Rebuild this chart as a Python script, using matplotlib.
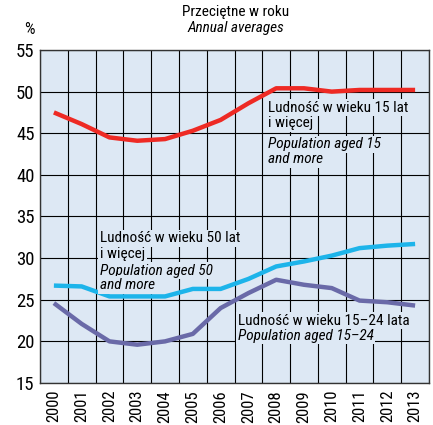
import numpy as np
import matplotlib.pyplot as plt
from matplotlib import font_manager

lata = [str(r) for r in range(2000, 2014)]
wiek_15 = [47.5, 46.1, 44.5, 44.1, 44.3, 45.3, 46.6, 48.6, 50.4, 50.4, 50.0, 50.2, 50.2, 50.2]
wiek_50 = [26.7, 26.6, 25.4, 25.4, 25.4, 26.3, 26.3, 27.5, 29.0, 29.6, 30.3, 31.2, 31.5, 31.7]
wiek_15_24 = [24.6, 22.1, 20.0, 19.6, 20.0, 20.9, 24.0, 25.8, 27.4, 26.8, 26.4, 24.9, 24.7, 24.3]

dostepne = {f.name for f in font_manager.fontManager.ttflist}
for kandydat in ["Roboto Condensed", "Archivo Narrow", "PT Sans Narrow", "Liberation Sans Narrow", "Liberation Sans"]:
    if kandydat in dostepne:
        plt.rcParams["font.family"] = [kandydat, "DejaVu Sans"]
        break

TLO = "#dde8f4"
fig = plt.figure(figsize=(4.33, 4.25), dpi=100)
ax = fig.add_axes([40/433, 42/425, 389/433, 333/425])
ax.set_facecolor(TLO)
x = np.arange(len(lata))

ax.plot(x, wiek_15, color="#ee2a24", lw=3.2, solid_capstyle="butt", zorder=3)
ax.plot(x, wiek_50, color="#1db4ea", lw=3.2, solid_capstyle="butt", zorder=3)
ax.plot(x, wiek_15_24, color="#6a6aa8", lw=3.2, solid_capstyle="butt", zorder=3)

ax.set_xlim(-0.5, 13.5)
ax.set_ylim(15, 55)
ax.set_yticks(range(15, 56, 5))
ax.set_xticks(x, lata, rotation=90, fontsize=12)
ax.set_xticks(np.arange(-0.5, 14, 1), minor=True)
ax.tick_params(axis="x", which="major", length=0, pad=5)
ax.tick_params(axis="x", which="minor", length=0)
ax.tick_params(axis="y", length=0, labelsize=13.5, pad=4)
ax.grid(True, which="minor", axis="x", color="black", lw=0.8, zorder=1)
ax.grid(True, which="major", axis="y", color="black", lw=0.8, zorder=1)
for s in ax.spines.values():
    s.set_color("#333333")
    s.set_linewidth(1.0)

box = dict(facecolor=TLO, edgecolor="none", pad=1.2)


def etykieta(x0, linie):
    for y0, tekst, styl in linie:
        ax.text(x0, y0, tekst, fontsize=11, style=styl, va="baseline", bbox=box, zorder=4)


etykieta(7.7, [(47.6, "Ludność w wieku 15 lat", "normal"),
               (45.7, "i więcej", "normal"),
               (43.2, "Population aged 15", "italic"),
               (41.4, "and more", "italic")])
etykieta(1.66, [(31.9, "Ludność w wieku 50 lat", "normal"),
                (30.0, "i więcej", "normal"),
                (28.0, "Population aged 50", "italic"),
                (26.3, "and more", "italic")])
etykieta(6.62, [(22.0, "Ludność w wieku 15–24 lata", "normal"),
                (20.2, "Population aged 15–24", "italic")])

fig.text(236/433, 1 - 12/425, "Przeciętne w roku", ha="center", va="center", fontsize=11)
fig.text(236/433, 1 - 28/425, "Annual averages", ha="center", va="center", fontsize=11, style="italic")
fig.text(29/433, 1 - 30/425, "%", ha="center", va="center", fontsize=12)

fig.savefig("out.png", dpi=100)
